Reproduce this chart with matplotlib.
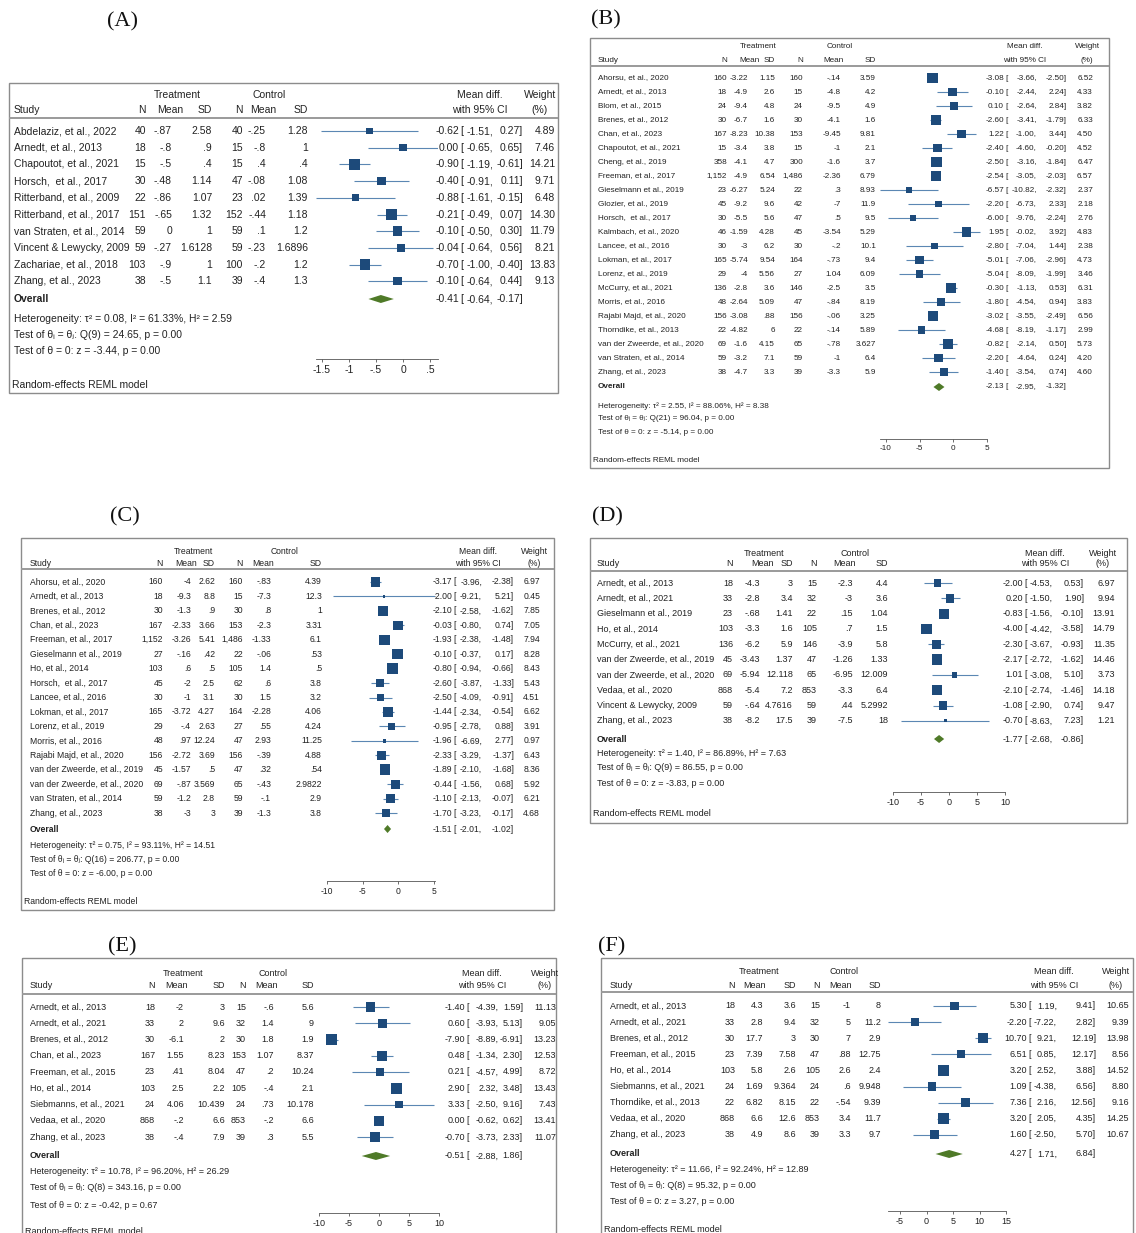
import matplotlib.pyplot as plt
from matplotlib.patches import Rectangle
import numpy as np

plt.rcParams['font.family'] = ['Liberation Sans', 'DejaVu Sans']

W, H = 1136, 1233

# ---------------- data: panel A ----------------
A_study = ["Abdelaziz, et al., 2022", "Arnedt, et al., 2013", "Chapoutot, et al., 2021",
           "Horsch,  et al., 2017", "Ritterband, et al., 2009", "Ritterband, et al., 2017",
           "van Straten, et al., 2014", "Vincent & Lewycky, 2009", "Zachariae, et al., 2018",
           "Zhang, et al., 2023"]
A_treat = [("40", "-.87", "2.58"), ("18", "-.8", ".9"), ("15", "-.5", ".4"), ("30", "-.48", "1.14"),
           ("22", "-.86", "1.07"), ("151", "-.65", "1.32"), ("59", "0", "1"), ("59", "-.27", "1.6128"),
           ("103", "-.9", "1"), ("38", "-.5", "1.1")]
A_ctrl = [("40", "-.25", "1.28"), ("15", "-.8", "1"), ("15", ".4", ".4"), ("47", "-.08", "1.08"),
          ("23", ".02", "1.39"), ("152", "-.44", "1.18"), ("59", ".1", "1.2"), ("59", "-.23", "1.6896"),
          ("100", "-.2", "1.2"), ("39", "-.4", "1.3")]
A_est = [-0.62, 0.00, -0.90, -0.40, -0.88, -0.21, -0.10, -0.04, -0.70, -0.10]
A_lo = [-1.51, -0.65, -1.19, -0.91, -1.61, -0.49, -0.50, -0.64, -1.00, -0.64]
A_hi = [0.27, 0.65, -0.61, 0.11, -0.15, 0.07, 0.30, 0.56, -0.40, 0.44]
A_wt = [4.89, 7.46, 14.21, 9.71, 6.48, 14.30, 11.79, 8.21, 13.83, 9.13]
A_overall = (-0.41, -0.64, -0.17)
A_stats = ["τ² = 0.08, I² = 61.33%, H² = 2.59", "Q(9) = 24.65, p = 0.00", "z = -3.44, p = 0.00"]
A_ticks = [-1.5, -1, -0.5, 0, 0.5]
A_ticklabels = ["-1.5", "-1", "-.5", "0", ".5"]

# ---------------- data: panel B ----------------
B_study = ["Ahorsu, et al., 2020", "Arnedt, et al., 2013", "Blom, et al., 2015", "Brenes, et al., 2012",
           "Chan, et al., 2023", "Chapoutot, et al., 2021", "Cheng, et al., 2019", "Freeman, et al., 2017",
           "Gieselmann et al., 2019", "Glozier, et al., 2019", "Horsch,  et al., 2017",
           "Kalmbach, et al., 2020", "Lancee, et al., 2016", "Lokman, et al., 2017", "Lorenz, et al., 2019",
           "McCurry, et al., 2021", "Morris, et al., 2016", "Rajabi Majd, et al., 2020",
           "Thorndike, et al., 2013", "van der Zweerde, et al., 2020", "van Straten, et al., 2014",
           "Zhang, et al., 2023"]
B_treat = [("160", "-3.22", "1.15"), ("18", "-4.9", "2.6"), ("24", "-9.4", "4.8"), ("30", "-6.7", "1.6"),
           ("167", "-8.23", "10.38"), ("15", "-3.4", "3.8"), ("358", "-4.1", "4.7"), ("1,152", "-4.9", "6.54"),
           ("23", "-6.27", "5.24"), ("45", "-9.2", "9.6"), ("30", "-5.5", "5.6"), ("46", "-1.59", "4.28"),
           ("30", "-3", "6.2"), ("165", "-5.74", "9.54"), ("29", "-4", "5.56"), ("136", "-2.8", "3.6"),
           ("48", "-2.64", "5.09"), ("156", "-3.08", ".88"), ("22", "-4.82", "6"), ("69", "-1.6", "4.15"),
           ("59", "-3.2", "7.1"), ("38", "-4.7", "3.3")]
B_ctrl = [("160", "-.14", "3.59"), ("15", "-4.8", "4.2"), ("24", "-9.5", "4.9"), ("30", "-4.1", "1.6"),
          ("153", "-9.45", "9.81"), ("15", "-1", "2.1"), ("300", "-1.6", "3.7"), ("1,486", "-2.36", "6.79"),
          ("22", ".3", "8.93"), ("42", "-7", "11.9"), ("47", ".5", "9.5"), ("45", "-3.54", "5.29"),
          ("30", "-.2", "10.1"), ("164", "-.73", "9.4"), ("27", "1.04", "6.09"), ("146", "-2.5", "3.5"),
          ("47", "-.84", "8.19"), ("156", "-.06", "3.25"), ("22", "-.14", "5.89"), ("65", "-.78", "3.627"),
          ("59", "-1", "6.4"), ("39", "-3.3", "5.9")]
B_est = [-3.08, -0.10, 0.10, -2.60, 1.22, -2.40, -2.50, -2.54, -6.57, -2.20, -6.00,
         1.95, -2.80, -5.01, -5.04, -0.30, -1.80, -3.02, -4.68, -0.82, -2.20, -1.40]
B_lo = [-3.66, -2.44, -2.64, -3.41, -1.00, -4.60, -3.16, -3.05, -10.82, -6.73, -9.76,
        -0.02, -7.04, -7.06, -8.09, -1.13, -4.54, -3.55, -8.19, -2.14, -4.64, -3.54]
B_hi = [-2.50, 2.24, 2.84, -1.79, 3.44, -0.20, -1.84, -2.03, -2.32, 2.33, -2.24,
        3.92, 1.44, -2.96, -1.99, 0.53, 0.94, -2.49, -1.17, 0.50, 0.24, 0.74]
B_wt = [6.52, 4.33, 3.82, 6.33, 4.50, 4.52, 6.47, 6.57, 2.37, 2.18, 2.76,
        4.83, 2.38, 4.73, 3.46, 6.31, 3.83, 6.56, 2.99, 5.73, 4.20, 4.60]
B_overall = (-2.13, -2.95, -1.32)
B_stats = ["τ² = 2.55, I² = 88.06%, H² = 8.38", "Q(21) = 96.04, p = 0.00", "z = -5.14, p = 0.00"]
B_ticks = [-10, -5, 0, 5]
B_ticklabels = ["-10", "-5", "0", "5"]

# ---------------- data: panel C ----------------
C_study = ["Ahorsu, et al., 2020", "Arnedt, et al., 2013", "Brenes, et al., 2012", "Chan, et al., 2023",
           "Freeman, et al., 2017", "Gieselmann et al., 2019", "Ho, et al., 2014", "Horsch,  et al., 2017",
           "Lancee, et al., 2016", "Lokman, et al., 2017", "Lorenz, et al., 2019", "Morris, et al., 2016",
           "Rajabi Majd, et al., 2020", "van der Zweerde, et al., 2019", "van der Zweerde, et al., 2020",
           "van Straten, et al., 2014", "Zhang, et al., 2023"]
C_treat = [("160", "-4", "2.62"), ("18", "-9.3", "8.8"), ("30", "-1.3", ".9"), ("167", "-2.33", "3.66"),
           ("1,152", "-3.26", "5.41"), ("27", "-.16", ".42"), ("103", ".6", ".5"), ("45", "-2", "2.5"),
           ("30", "-1", "3.1"), ("165", "-3.72", "4.27"), ("29", "-.4", "2.63"), ("48", ".97", "12.24"),
           ("156", "-2.72", "3.69"), ("45", "-1.57", ".5"), ("69", "-.87", "3.569"), ("59", "-1.2", "2.8"),
           ("38", "-3", "3")]
C_ctrl = [("160", "-.83", "4.39"), ("15", "-7.3", "12.3"), ("30", ".8", "1"), ("153", "-2.3", "3.31"),
          ("1,486", "-1.33", "6.1"), ("22", "-.06", ".53"), ("105", "1.4", ".5"), ("62", ".6", "3.8"),
          ("30", "1.5", "3.2"), ("164", "-2.28", "4.06"), ("27", ".55", "4.24"), ("47", "2.93", "11.25"),
          ("156", "-.39", "4.88"), ("47", ".32", ".54"), ("65", "-.43", "2.9822"), ("59", "-.1", "2.9"),
          ("39", "-1.3", "3.8")]
C_est = [-3.17, -2.00, -2.10, -0.03, -1.93, -0.10, -0.80, -2.60, -2.50, -1.44, -0.95, -1.96,
         -2.33, -1.89, -0.44, -1.10, -1.70]
C_lo = [-3.96, -9.21, -2.58, -0.80, -2.38, -0.37, -0.94, -3.87, -4.09, -2.34, -2.78, -6.69,
        -3.29, -2.10, -1.56, -2.13, -3.23]
C_hi = [-2.38, 5.21, -1.62, 0.74, -1.48, 0.17, -0.66, -1.33, -0.91, -0.54, 0.88, 2.77,
        -1.37, -1.68, 0.68, -0.07, -0.17]
C_wt = [6.97, 0.45, 7.85, 7.05, 7.94, 8.28, 8.43, 5.43, 4.51, 6.62, 3.91, 0.97,
        6.43, 8.36, 5.92, 6.21, 4.68]
C_overall = (-1.51, -2.01, -1.02)
C_stats = ["τ² = 0.75, I² = 93.11%, H² = 14.51", "Q(16) = 206.77, p = 0.00", "z = -6.00, p = 0.00"]
C_ticks = [-10, -5, 0, 5]
C_ticklabels = ["-10", "-5", "0", "5"]

# ---------------- data: panel D ----------------
D_study = ["Arnedt, et al., 2013", "Arnedt, et al., 2021", "Gieselmann et al., 2019", "Ho, et al., 2014",
           "McCurry, et al., 2021", "van der Zweerde, et al., 2019", "van der Zweerde, et al., 2020",
           "Vedaa, et al., 2020", "Vincent & Lewycky, 2009", "Zhang, et al., 2023"]
D_treat = [("18", "-4.3", "3"), ("33", "-2.8", "3.4"), ("23", "-.68", "1.41"), ("103", "-3.3", "1.6"),
           ("136", "-6.2", "5.9"), ("45", "-3.43", "1.37"), ("69", "-5.94", "12.118"), ("868", "-5.4", "7.2"),
           ("59", "-.64", "4.7616"), ("38", "-8.2", "17.5")]
D_ctrl = [("15", "-2.3", "4.4"), ("32", "-3", "3.6"), ("22", ".15", "1.04"), ("105", ".7", "1.5"),
          ("146", "-3.9", "5.8"), ("47", "-1.26", "1.33"), ("65", "-6.95", "12.009"), ("853", "-3.3", "6.4"),
          ("59", ".44", "5.2992"), ("39", "-7.5", "18")]
D_est = [-2.00, 0.20, -0.83, -4.00, -2.30, -2.17, 1.01, -2.10, -1.08, -0.70]
D_lo = [-4.53, -1.50, -1.56, -4.42, -3.67, -2.72, -3.08, -2.74, -2.90, -8.63]
D_hi = [0.53, 1.90, -0.10, -3.58, -0.93, -1.62, 5.10, -1.46, 0.74, 7.23]
D_wt = [6.97, 9.94, 13.91, 14.79, 11.35, 14.46, 3.73, 14.18, 9.47, 1.21]
D_overall = (-1.77, -2.68, -0.86)
D_stats = ["τ² = 1.40, I² = 86.89%, H² = 7.63", "Q(9) = 86.55, p = 0.00", "z = -3.83, p = 0.00"]
D_ticks = [-10, -5, 0, 5, 10]
D_ticklabels = ["-10", "-5", "0", "5", "10"]

# ---------------- data: panel E ----------------
E_study = ["Arnedt, et al., 2013", "Arnedt, et al., 2021", "Brenes, et al., 2012", "Chan, et al., 2023",
           "Freeman, et al., 2015", "Ho, et al., 2014", "Siebmanns, et al., 2021", "Vedaa, et al., 2020",
           "Zhang, et al., 2023"]
E_treat = [("18", "-2", "3"), ("33", "2", "9.6"), ("30", "-6.1", "2"), ("167", "1.55", "8.23"),
           ("23", ".41", "8.04"), ("103", "2.5", "2.2"), ("24", "4.06", "10.439"), ("868", "-.2", "6.6"),
           ("38", "-.4", "7.9")]
E_ctrl = [("15", "-.6", "5.6"), ("32", "1.4", "9"), ("30", "1.8", "1.9"), ("153", "1.07", "8.37"),
          ("47", ".2", "10.24"), ("105", "-.4", "2.1"), ("24", ".73", "10.178"), ("853", "-.2", "6.6"),
          ("39", ".3", "5.5")]
E_est = [-1.40, 0.60, -7.90, 0.48, 0.21, 2.90, 3.33, 0.00, -0.70]
E_lo = [-4.39, -3.93, -8.89, -1.34, -4.57, 2.32, -2.50, -0.62, -3.73]
E_hi = [1.59, 5.13, -6.91, 2.30, 4.99, 3.48, 9.16, 0.62, 2.33]
E_wt = [11.13, 9.05, 13.23, 12.53, 8.72, 13.43, 7.43, 13.41, 11.07]
E_overall = (-0.51, -2.88, 1.86)
E_stats = ["τ² = 10.78, I² = 96.20%, H² = 26.29", "Q(8) = 343.16, p = 0.00", "z = -0.42, p = 0.67"]
E_ticks = [-10, -5, 0, 5, 10]
E_ticklabels = ["-10", "-5", "0", "5", "10"]

# ---------------- data: panel F ----------------
F_study = ["Arnedt, et al., 2013", "Arnedt, et al., 2021", "Brenes, et al., 2012", "Freeman, et al., 2015",
           "Ho, et al., 2014", "Siebmanns, et al., 2021", "Thorndike, et al., 2013", "Vedaa, et al., 2020",
           "Zhang, et al., 2023"]
F_treat = [("18", "4.3", "3.6"), ("33", "2.8", "9.4"), ("30", "17.7", "3"), ("23", "7.39", "7.58"),
           ("103", "5.8", "2.6"), ("24", "1.69", "9.364"), ("22", "6.82", "8.15"), ("868", "6.6", "12.6"),
           ("38", "4.9", "8.6")]
F_ctrl = [("15", "-1", "8"), ("32", "5", "11.2"), ("30", "7", "2.9"), ("47", ".88", "12.75"),
          ("105", "2.6", "2.4"), ("24", ".6", "9.948"), ("22", "-.54", "9.39"), ("853", "3.4", "11.7"),
          ("39", "3.3", "9.7")]
F_est = [5.30, -2.20, 10.70, 6.51, 3.20, 1.09, 7.36, 3.20, 1.60]
F_lo = [1.19, -7.22, 9.21, 0.85, 2.52, -4.38, 2.16, 2.05, -2.50]
F_hi = [9.41, 2.82, 12.19, 12.17, 3.88, 6.56, 12.56, 4.35, 5.70]
F_wt = [10.65, 9.39, 13.98, 8.56, 14.52, 8.80, 9.16, 14.25, 10.67]
F_overall = (4.27, 1.71, 6.84)
F_stats = ["τ² = 11.66, I² = 92.24%, H² = 12.89", "Q(8) = 95.32, p = 0.00", "z = 3.27, p = 0.00"]
F_ticks = [-5, 0, 5, 10, 15]
F_ticklabels = ["-5", "0", "5", "10", "15"]

# ---------------- layout (figure pixels) ----------------
layout = {
    'A': dict(box=(9, 83, 558, 393), title=(123, 22), fs=7.5,
              hdr=(95, 110), line=118, row0=131, dy=16.7, overall=299, stats=(319, 335, 351),
              axis=359, model=385, sx=14, cols=(146, 172, 212, 243, 266, 308), mh=(170, 263),
              grp=(177, 269), md=(459, 493, 523, 555), hc=(480, 540), tk=(322, 430)),
    'B': dict(box=(590, 38, 1109, 468), title=(606, 20), fs=5.9,
              hdr=(46, 60), line=66, row0=78, dy=14.0, overall=387, stats=(406, 418, 432),
              axis=439, model=461, sx=598, cols=(727, 748, 775, 803, 841, 876), mh=(750, 834),
              grp=(758, 840), md=(1004, 1037, 1067, 1093), hc=(1025, 1087), tk=(886, 987)),
    'C': dict(box=(21, 538, 554, 910), title=(125, 517), fs=6.2,
              hdr=(551, 563), line=569, row0=582, dy=14.44, overall=829, stats=(846, 859, 873),
              axis=881, model=902, sx=30, cols=(163, 191, 215, 243, 271, 322), mh=(186, 263),
              grp=(193, 285), md=(452, 482, 514, 540), hc=(478, 534), tk=(327, 434)),
    'D': dict(box=(590, 538, 1127, 823), title=(607, 517), fs=6.5,
              hdr=(553, 564), line=571, row0=583, dy=15.33, overall=739, stats=(753, 768, 783),
              axis=792, model=813, sx=597, cols=(733, 760, 793, 817, 853, 888), mh=(763, 845),
              grp=(764, 855), md=(1023, 1053, 1084, 1115), hc=(1045, 1103), tk=(893, 1005)),
    'E': dict(box=(22, 958, 556, 1260), title=(122, 947), fs=6.5,
              hdr=(973, 986), line=994, row0=1007, dy=16.25, overall=1156, stats=(1172, 1188, 1205),
              axis=1213, model=1231, sx=30, cols=(155, 184, 225, 246, 274, 314), mh=(176, 267),
              grp=(183, 273), md=(465, 499, 523, 556), hc=(482, 545), tk=(319, 439)),
    'F': dict(box=(601, 958, 1133, 1260), title=(612, 947), fs=6.5,
              hdr=(972, 985), line=992, row0=1006, dy=16.1, overall=1154, stats=(1170, 1186, 1202),
              axis=1211, model=1230, sx=610, cols=(735, 763, 796, 820, 851, 881), mh=(754, 840),
              grp=(759, 844), md=(1027, 1057, 1096, 1129), hc=(1054, 1116), tk=(900, 1006)),
}

TXT = '#222222'
SQ = '#1d4a7a'
CI = '#5b87b3'
DIA = '#4f7a28'

fig = plt.figure(figsize=(W / 100, H / 100), dpi=100)
canvas = fig.add_axes([0, 0, 1, 1])
canvas.set_xlim(0, W)
canvas.set_ylim(H, 0)
canvas.axis('off')


def txt(x, y, s, fs, ha='left', bold=False):
    canvas.text(x, y, s, fontsize=fs, ha=ha, va='center', color=TXT,
                fontweight='bold' if bold else 'normal')


def panel(name, study, treat, ctrl, est, lo, hi, wt, overall, stats, ticks, ticklabels):
    g = layout[name]
    fs = g['fs']
    x0, y0, x1, y1 = g['box']
    canvas.add_patch(Rectangle((x0, y0), x1 - x0, y1 - y0, fill=False, ec='#8c8c8c', lw=1.0))
    canvas.text(g['title'][0], g['title'][1], '(%s)' % name, fontsize=16, ha='center', va='center',
                family='Liberation Serif', color='#111111')

    # headers
    h1, h2 = g['hdr']
    c = g['cols']
    txt(g['grp'][0], h1, 'Treatment', fs, 'center')
    txt(g['grp'][1], h1, 'Control', fs, 'center')
    txt(g['sx'], h2, 'Study', fs)
    txt(c[0], h2, 'N', fs, 'right')
    txt(g['mh'][0], h2, 'Mean', fs, 'center')
    txt(c[2], h2, 'SD', fs, 'right')
    txt(c[3], h2, 'N', fs, 'right')
    txt(g['mh'][1], h2, 'Mean', fs, 'center')
    txt(c[5], h2, 'SD', fs, 'right')
    txt(g['hc'][0], h1, 'Mean diff.', fs, 'center')
    txt(g['hc'][0], h2, 'with 95% CI', fs, 'center')
    txt(g['hc'][1], h1, 'Weight', fs, 'center')
    txt(g['hc'][1], h2, '(%)', fs, 'center')
    canvas.plot([x0, x1], [g['line'], g['line']], color='#9a9a9a', lw=1.4, solid_capstyle='butt')

    est = np.array(est)
    lo = np.array(lo)
    hi = np.array(hi)
    wt = np.array(wt)
    ys = g['row0'] + np.arange(len(study)) * g['dy']
    er, lr, hr, wr = g['md']

    for i, y in enumerate(ys):
        txt(g['sx'], y, study[i], fs)
        for k, v in enumerate(treat[i] + ctrl[i]):
            txt(c[k], y, v, fs, 'right')
        txt(er, y, '%.2f' % est[i], fs, 'right')
        txt(er + 1.5, y, '[', fs)
        txt(lr, y, '%.2f,' % lo[i], fs, 'right')
        txt(hr, y, '%.2f]' % hi[i], fs, 'right')
        txt(wr, y, '%.2f' % wt[i], fs, 'right')

    yo = g['overall']
    txt(g['sx'], yo, 'Overall', fs, bold=True)
    txt(er, yo, '%.2f' % overall[0], fs, 'right')
    txt(er + 1.5, yo, '[', fs)
    txt(lr, yo, '%.2f,' % overall[1], fs, 'right')
    txt(hr, yo, '%.2f]' % overall[2], fs, 'right')

    s1, s2, s3 = g['stats']
    txt(g['sx'], s1, 'Heterogeneity: ' + stats[0], fs)
    txt(g['sx'], s2, 'Test of θᵢ = θⱼ: ' + stats[1], fs)
    txt(g['sx'], s3, 'Test of θ = 0: ' + stats[2], fs)
    txt(x0 + 3, g['model'], 'Random-effects REML model', fs)

    # forest plot axes, x in mean-difference units, y in figure pixels
    t0, t1 = ticks[0], ticks[-1]
    ppu = (g['tk'][1] - g['tk'][0]) / (t1 - t0)
    xmin = min(lo.min(), t0)
    xmax = max(hi.max(), t1)
    left = g['tk'][0] - (t0 - xmin) * ppu
    right = g['tk'][1] + (xmax - t1) * ppu
    ax = fig.add_axes([left / W, 0, (right - left) / W, 1])
    ax.set_xlim(xmin, xmax)
    ax.set_ylim(H, 0)
    ax.patch.set_alpha(0)
    for s in ['top', 'left', 'right']:
        ax.spines[s].set_visible(False)
    ax.spines['bottom'].set_position(('data', g['axis']))
    ax.spines['bottom'].set_color('#555555')
    ax.spines['bottom'].set_linewidth(0.6)
    ax.set_yticks([])
    ax.set_xticks(ticks, ticklabels)
    ax.tick_params(axis='x', length=2.5, width=0.6, labelsize=fs, pad=1.5,
                   color='#555555', labelcolor=TXT)

    ax.hlines(ys, lo, hi, color=CI, lw=0.8, zorder=2)
    side = 10.5 * np.sqrt(wt / wt.max()) * 0.72
    ax.scatter(est, ys, marker='s', s=side ** 2, color=SQ, lw=0, zorder=3)
    hd = 4.0
    ax.fill([overall[1], overall[0], overall[2], overall[0]],
            [yo, yo - hd, yo, yo + hd], color=DIA, lw=0, zorder=3)


panel('A', A_study, A_treat, A_ctrl, A_est, A_lo, A_hi, A_wt, A_overall, A_stats, A_ticks, A_ticklabels)
panel('B', B_study, B_treat, B_ctrl, B_est, B_lo, B_hi, B_wt, B_overall, B_stats, B_ticks, B_ticklabels)
panel('C', C_study, C_treat, C_ctrl, C_est, C_lo, C_hi, C_wt, C_overall, C_stats, C_ticks, C_ticklabels)
panel('D', D_study, D_treat, D_ctrl, D_est, D_lo, D_hi, D_wt, D_overall, D_stats, D_ticks, D_ticklabels)
panel('E', E_study, E_treat, E_ctrl, E_est, E_lo, E_hi, E_wt, E_overall, E_stats, E_ticks, E_ticklabels)
panel('F', F_study, F_treat, F_ctrl, F_est, F_lo, F_hi, F_wt, F_overall, F_stats, F_ticks, F_ticklabels)

fig.savefig('out.png', dpi=100, facecolor='white')
